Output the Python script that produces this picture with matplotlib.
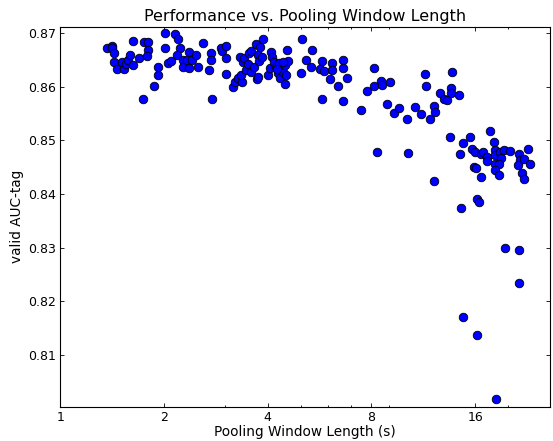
import numpy as np
import matplotlib
matplotlib.use('Agg')
import matplotlib.pyplot as plt
from matplotlib.ticker import LogLocator, FuncFormatter, MultipleLocator


# pooling window length (s) and validation AUC-tag
window_len = [
    1.365, 1.407, 1.411, 1.430, 1.430, 1.457, 1.506, 1.526, 1.553, 1.574,
    1.592, 1.621, 1.619, 1.685, 1.740, 1.752, 1.799, 1.799, 1.780, 1.873,
    1.916, 1.916,
    2.012, 2.012, 2.144, 2.195, 2.217, 2.173, 2.057, 2.087, 2.262, 2.274,
    2.355, 2.331, 2.362, 2.406, 2.471, 2.514, 2.586, 2.706, 2.732, 2.732,
    2.750, 2.917, 2.946, 3.026, 3.026, 3.026,
    3.178, 3.214, 3.272, 3.362, 3.346, 3.324, 3.398, 3.421, 3.453, 3.499,
    3.537, 3.577, 3.577, 3.657, 3.691, 3.731, 3.756, 3.741, 3.774, 3.799,
    3.843, 3.869, 4.016, 4.089, 4.108, 4.062, 4.180, 4.228, 4.276, 4.322,
    4.343, 4.392, 4.440, 4.491, 4.512, 4.491, 4.573, 4.542, 4.248, 4.440,
    4.981, 5.021, 5.157, 5.369, 5.344, 5.741, 5.657, 5.842, 6.069, 6.151,
    6.151, 6.382, 6.599, 6.599, 6.814, 5.764,
    6.635, 7.468, 7.759, 8.130, 8.163, 8.519, 8.611, 9.066, 8.903, 9.332,
    9.631, 8.328, 10.14, 10.19, 10.72, 11.13, 11.46, 11.54, 11.85, 12.19,
    12.25, 12.17, 12.67, 13.01, 13.25, 13.61, 13.61, 13.70, 14.32,
    13.55, 14.75, 15.41, 14.48, 15.64, 16.01, 16.63, 16.92, 17.31, 17.62,
    18.10, 18.22, 18.30, 18.93, 19.05, 19.35, 20.14, 17.31, 18.30, 18.72,
    15.90, 16.12, 16.63, 18.30, 18.72, 21.42, 21.64, 21.35, 22.19, 22.78,
    23.14, 21.85, 22.25, 14.55, 16.19, 16.47, 19.48, 21.39, 21.39, 14.75,
    16.19, 18.43,
]
auc_tag = [
    0.8672, 0.8677, 0.8672, 0.8663, 0.8646, 0.8633, 0.8646, 0.8633, 0.8643, 0.8651,
    0.8659, 0.8641, 0.8685, 0.8653, 0.8577, 0.8684, 0.8683, 0.8668, 0.8658, 0.8602,
    0.8622, 0.8637,
    0.8700, 0.8673, 0.8699, 0.8689, 0.8672, 0.8660, 0.8645, 0.8648, 0.8651, 0.8637,
    0.8665, 0.8650, 0.8635, 0.8651, 0.8660, 0.8638, 0.8681, 0.8632, 0.8663, 0.8651,
    0.8577, 0.8672, 0.8666, 0.8676, 0.8653, 0.8624,
    0.8600, 0.8609, 0.8617, 0.8609, 0.8622, 0.8655, 0.8646, 0.8653, 0.8632, 0.8642,
    0.8663, 0.8666, 0.8628, 0.8638, 0.8680, 0.8615, 0.8619, 0.8660, 0.8648, 0.8675,
    0.8656, 0.8689, 0.8622, 0.8665, 0.8655, 0.8636, 0.8646, 0.8638, 0.8625, 0.8644,
    0.8616, 0.8635, 0.8628, 0.8605, 0.8622, 0.8640, 0.8648, 0.8669, 0.8633, 0.8647,
    0.8626, 0.8689, 0.8650, 0.8669, 0.8638, 0.8648, 0.8633, 0.8629, 0.8614, 0.8644,
    0.8631, 0.8601, 0.8650, 0.8635, 0.8617, 0.8577,
    0.8574, 0.8557, 0.8593, 0.8635, 0.8602, 0.8611, 0.8604, 0.8610, 0.8568, 0.8552,
    0.8561, 0.8479, 0.8540, 0.8477, 0.8563, 0.8549, 0.8624, 0.8602, 0.8540, 0.8565,
    0.8554, 0.8424, 0.8589, 0.8577, 0.8576, 0.8597, 0.8588, 0.8627, 0.8584,
    0.8506, 0.8496, 0.8507, 0.8474, 0.8484, 0.8478, 0.8474, 0.8478, 0.8470, 0.8517,
    0.8498, 0.8482, 0.8473, 0.8479, 0.8467, 0.8482, 0.8480, 0.8461, 0.8457, 0.8456,
    0.8451, 0.8449, 0.8432, 0.8445, 0.8436, 0.8474, 0.8464, 0.8454, 0.8465, 0.8485,
    0.8456, 0.8439, 0.8428, 0.8374, 0.8391, 0.8385, 0.8300, 0.8296, 0.8235, 0.8170,
    0.8137, 0.8017,
]

x_ticks = [1, 2, 4, 8, 16]


fig = plt.figure(figsize=(5.53, 4.41), dpi=100)
ax = fig.add_axes([0.1094, 0.0778, 0.8852, 0.8617])

ax.scatter(window_len, auc_tag, s=38, c='#0000ff', edgecolors='black',
           linewidths=0.6, zorder=3)

ax.set_xscale('log', base=2)
ax.set_xlim(1, 26.4)
ax.set_ylim(0.80034, 0.87123)

ax.xaxis.set_major_locator(matplotlib.ticker.FixedLocator(x_ticks))
ax.xaxis.set_major_formatter(FuncFormatter(lambda v, p: '%g' % v))
ax.xaxis.set_minor_locator(LogLocator(base=10, subs=np.arange(2, 10), numticks=20))
ax.xaxis.set_minor_formatter(matplotlib.ticker.NullFormatter())
ax.yaxis.set_major_locator(MultipleLocator(0.01))
ax.yaxis.set_major_formatter(FuncFormatter(lambda v, p: '%.2f' % v))

ax.tick_params(which='both', direction='in', top=True, right=True,
               labelsize=9.0, width=0.6, pad=3)
ax.tick_params(which='major', length=3)
ax.tick_params(which='minor', length=1.6)
for sp in ax.spines.values():
    sp.set_linewidth(0.8)

ax.set_xlabel('Pooling Window Length (s)', fontsize=9.8, labelpad=1)
ax.set_ylabel('valid AUC-tag', fontsize=9.8, labelpad=3)
ax.set_title('Performance vs. Pooling Window Length', fontsize=11.5, pad=4)

fig.savefig('out.png', dpi=100)
